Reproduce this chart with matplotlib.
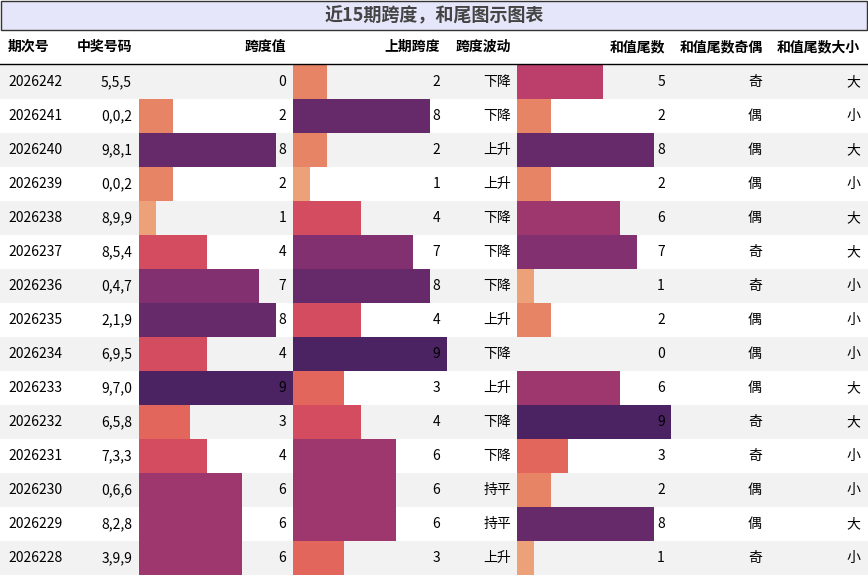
import matplotlib
matplotlib.use("Agg")
import matplotlib.pyplot as plt
import seaborn as sns
from matplotlib.colors import Normalize

plt.rcParams['font.family'] = ['Noto Sans CJK SC', 'DejaVu Sans']

title = "近15期跨度，和尾图示图表"
headers = ["期次号", "中奖号码", "跨度值", "上期跨度", "跨度波动", "和值尾数", "和值尾数奇偶", "和值尾数大小"]
periods = ["2026242","2026241","2026240","2026239","2026238","2026237","2026236","2026235",
           "2026234","2026233","2026232","2026231","2026230","2026229","2026228"]
numbers = ["5,5,5","0,0,2","9,8,1","0,0,2","8,9,9","8,5,4","0,4,7","2,1,9",
           "6,9,5","9,7,0","6,5,8","7,3,3","0,6,6","8,2,8","3,9,9"]
span = [0,2,8,2,1,4,7,8,4,9,3,4,6,6,6]
prev_span = [2,8,2,1,4,7,8,4,9,3,4,6,6,6,3]
trend = ["下降","下降","上升","上升","下降","下降","下降","上升","下降","上升","下降","下降","持平","持平","上升"]
tail = [5,2,8,2,6,7,1,2,0,6,9,3,2,8,1]
parity = ["奇","偶","偶","偶","偶","奇","奇","偶","偶","偶","奇","奇","偶","偶","奇"]
size = ["大","小","大","小","大","大","小","小","小","大","大","小","小","大","小"]

W, H = 868, 576
fig = plt.figure(figsize=(W/100, H/100), dpi=100)
ax = fig.add_axes([0, 0, 1, 1])
ax.set_xlim(0, W); ax.set_ylim(H, 0); ax.axis("off")

cmap = sns.color_palette("flare", as_cmap=True)
norm = Normalize(0.5, 9)

top0, rh = 65, 34
unit = 17.1
fs = 10

# title band
ax.add_patch(plt.Rectangle((1, 1), W-2, 29, facecolor="#e6e6fa", edgecolor="#333333", lw=1))
ax.text(W/2, 16, title, ha="center", va="center", fontsize=13, fontweight="bold", color="#444444")

# header
hx = [(8, "left"), (132, "right"), (286, "right"), (440, "right"), (483, "center"),
      (665, "right"), (720, "center"), (860, "right")]
hx[4] = (483, "center")
header_pos = [(8,"left"),(132,"right"),(286,"right"),(440,"right"),(483,"center"),(665,"right"),(721,"center"),(860,"right")]
header_pos[4] = (483, "center")
for (x, ha), h in zip(header_pos, headers):
    if h == "跨度波动":
        x, ha = 483, "center"
    ax.text(x, 47, h, ha=ha, va="center", fontsize=fs, fontweight="bold", color="black")
ax.plot([0, W], [64, 64], color="black", lw=1)

for i in range(len(periods)):
    y0 = top0 + i*rh
    yc = y0 + rh/2
    if i % 2 == 0:
        ax.add_patch(plt.Rectangle((0, y0), W, rh, facecolor="#f2f2f2", edgecolor="none", zorder=0))

ys = [top0 + i*rh + rh/2 for i in range(len(periods))]
for left, vals, tx in [(139, span, 286), (293, prev_span, 440), (517, tail, 665)]:
    ax.barh(ys, [v*unit for v in vals], left=left, height=rh,
            color=[cmap(norm(v)) for v in vals], zorder=1)
    for y, v in zip(ys, vals):
        ax.text(tx, y, str(v), ha="right", va="center", fontsize=fs, zorder=2)

for y, p, n, t, pa, s in zip(ys, periods, numbers, trend, parity, size):
    ax.text(8, y, p, ha="left", va="center", fontsize=fs)
    ax.text(132, y, n, ha="right", va="center", fontsize=fs)
    ax.text(497, y, t, ha="center", va="center", fontsize=fs)
    ax.text(755, y, pa, ha="center", va="center", fontsize=fs)
    ax.text(860, y, s, ha="right", va="center", fontsize=fs)

fig.savefig("out.png", dpi=100)
